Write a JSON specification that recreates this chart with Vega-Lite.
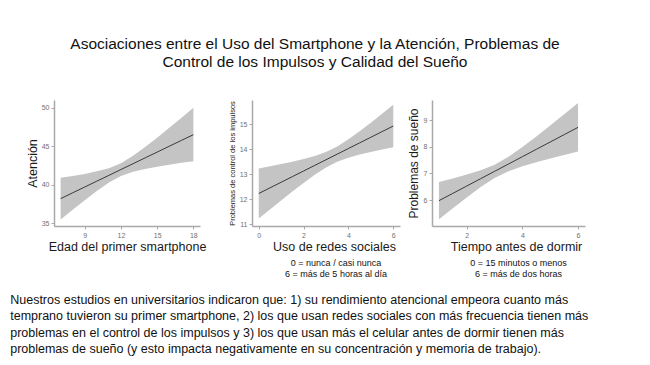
{
  "$schema": "https://vega.github.io/schema/vega-lite/v6.json",
  "background": "white",
  "padding": {"left": 10, "top": 36, "right": 5, "bottom": 5},
  "config": {
    "view": {"stroke": null},
    "font": "Liberation Sans",
    "axis": {"grid": false, "domainColor": "#a8a8a8", "domainWidth": 1.5, "tickColor": "#a8a8a8", "tickSize": 3, "tickWidth": 1, "labelColor": "#707070", "labelFontSize": 7, "labelPadding": 2, "labelOverlap": false, "titleFontWeight": "normal", "titleColor": "#1a1a1a", "titleFontSize": 12.5},
    "axisX": {"titlePadding": 2},
    "axisY": {"titlePadding": 3}
  },
  "title": {
    "text": ["Asociaciones entre el Uso del Smartphone y la Atención, Problemas de", "Control de los Impulsos y Calidad del Sueño"],
    "fontSize": 15.5, "fontWeight": "normal", "color": "#111111", "lineHeight": 18, "anchor": "middle", "offset": 30, "dx": 14
  },
  "datasets": {
    "p1": [
      {"x": 7, "lo": 35.5, "hi": 40.9, "fit": 38.2},
      {"x": 8, "lo": 36.77, "hi": 41.15, "fit": 38.96},
      {"x": 9, "lo": 38.0, "hi": 41.4, "fit": 39.71},
      {"x": 10, "lo": 39.2, "hi": 41.75, "fit": 40.47},
      {"x": 11, "lo": 40.3, "hi": 42.15, "fit": 41.22},
      {"x": 12, "lo": 41.15, "hi": 42.8, "fit": 41.98},
      {"x": 13, "lo": 41.7, "hi": 43.75, "fit": 42.73},
      {"x": 14, "lo": 42.05, "hi": 44.9, "fit": 43.49},
      {"x": 15, "lo": 42.35, "hi": 46.1, "fit": 44.24},
      {"x": 16, "lo": 42.6, "hi": 47.4, "fit": 45.0},
      {"x": 17, "lo": 42.85, "hi": 48.65, "fit": 45.75},
      {"x": 18, "lo": 43.05, "hi": 50.0, "fit": 46.5}
    ],
    "p2": [
      {"x": 0, "lo": 11.23, "hi": 13.23, "fit": 12.23},
      {"x": 0.5, "lo": 11.59, "hi": 13.32, "fit": 12.455},
      {"x": 1, "lo": 11.95, "hi": 13.41, "fit": 12.68},
      {"x": 1.5, "lo": 12.31, "hi": 13.5, "fit": 12.905},
      {"x": 2, "lo": 12.65, "hi": 13.61, "fit": 13.13},
      {"x": 2.5, "lo": 12.98, "hi": 13.73, "fit": 13.355},
      {"x": 3, "lo": 13.27, "hi": 13.89, "fit": 13.58},
      {"x": 3.5, "lo": 13.5, "hi": 14.11, "fit": 13.805},
      {"x": 4, "lo": 13.66, "hi": 14.4, "fit": 14.03},
      {"x": 4.5, "lo": 13.79, "hi": 14.72, "fit": 14.255},
      {"x": 5, "lo": 13.89, "hi": 15.06, "fit": 14.48},
      {"x": 5.5, "lo": 13.99, "hi": 15.42, "fit": 14.705},
      {"x": 6, "lo": 14.08, "hi": 15.78, "fit": 14.93}
    ],
    "p3": [
      {"x": 1, "lo": 5.28, "hi": 6.68, "fit": 5.98},
      {"x": 1.5, "lo": 5.7, "hi": 6.81, "fit": 6.255},
      {"x": 2, "lo": 6.1, "hi": 6.96, "fit": 6.53},
      {"x": 2.5, "lo": 6.49, "hi": 7.12, "fit": 6.805},
      {"x": 3, "lo": 6.83, "hi": 7.33, "fit": 7.08},
      {"x": 3.5, "lo": 7.08, "hi": 7.63, "fit": 7.355},
      {"x": 4, "lo": 7.27, "hi": 7.99, "fit": 7.63},
      {"x": 4.5, "lo": 7.42, "hi": 8.39, "fit": 7.905},
      {"x": 5, "lo": 7.56, "hi": 8.8, "fit": 8.18},
      {"x": 5.5, "lo": 7.69, "hi": 9.22, "fit": 8.455},
      {"x": 6, "lo": 7.82, "hi": 9.64, "fit": 8.73}
    ]
  },
  "vconcat": [
    {
      "title": {
        "text": [
          "Nuestros estudios en universitarios indicaron que: 1) su rendimiento atencional empeora cuanto más",
          "temprano tuvieron su primer smartphone,  2) los que usan redes sociales con más frecuencia tienen más",
          "problemas en el control de los impulsos y 3) los que usan más el celular antes de dormir tienen más",
          "problemas de sueño (y esto impacta negativamente en su concentración y memoria de trabajo)."
        ],
        "orient": "bottom", "anchor": "start", "frame": "bounds", "fontSize": 12.5, "fontWeight": "normal", "color": "#111111", "lineHeight": 16.5, "offset": 15, "dx": -16
      },
      "spacing": 52,
      "bounds": "flush",
      "hconcat": [
        {
          "width": 146, "height": 126,
          "data": {"name": "p1"},
          "layer": [
            {"mark": {"type": "area", "color": "#c4c4c4", "opacity": 1},
             "encoding": {
               "x": {"field": "x", "type": "quantitative", "scale": {"domain": [6.45, 18.55], "nice": false, "zero": false}, "axis": {"values": [9, 12, 15, 18], "title": "Edad del primer smartphone"}},
               "y": {"field": "lo", "type": "quantitative", "scale": {"domain": [34.65, 51.0], "nice": false, "zero": false}, "axis": {"values": [35, 40, 45, 50], "title": "Atención", "titlePadding": 2}},
               "y2": {"field": "hi"}
             }},
            {"mark": {"type": "line", "color": "#3a3a3a", "strokeWidth": 1},
             "encoding": {
               "x": {"field": "x", "type": "quantitative"},
               "y": {"field": "fit", "type": "quantitative"}
             }}
          ]
        },
        {
          "spacing": 32,
          "bounds": "flush",
          "hconcat": [
            {
              "width": 148, "height": 126,
              "data": {"name": "p2"},
              "title": {"text": ["0 = nunca / casi nunca", "6 = más de 5 horas al día"], "orient": "bottom", "fontSize": 9, "fontWeight": 500, "color": "#111111", "lineHeight": 11, "offset": 6, "dx": 10},
              "layer": [
                {"mark": {"type": "area", "color": "#c4c4c4", "opacity": 1},
                 "encoding": {
                   "x": {"field": "x", "type": "quantitative", "scale": {"domain": [-0.3, 6.3], "nice": false, "zero": false}, "axis": {"values": [0, 2, 4, 6], "title": "Uso de redes sociales", "titleX": 82}},
                   "y": {"field": "lo", "type": "quantitative", "scale": {"domain": [10.93, 15.97], "nice": false, "zero": false}, "axis": {"values": [11, 12, 13, 14, 15], "labelOverlap": false, "labelBound": false, "title": "Problemas de control de los impulsos", "titleFontSize": 7.5, "titlePadding": 3}},
                   "y2": {"field": "hi"}
                 }},
                {"mark": {"type": "line", "color": "#3a3a3a", "strokeWidth": 1},
                 "encoding": {
                   "x": {"field": "x", "type": "quantitative"},
                   "y": {"field": "fit", "type": "quantitative", "axis": {"values": [11, 12, 13, 14, 15], "labelOverlap": false}}
                 }}
              ]
            },
            {
              "width": 153, "height": 126,
              "data": {"name": "p3"},
              "title": {"text": ["0 = 15 minutos o menos", "6 = más de dos horas"], "orient": "bottom", "fontSize": 9, "fontWeight": 500, "color": "#111111", "lineHeight": 11, "offset": 6, "dx": 10},
              "layer": [
                {"mark": {"type": "area", "color": "#c4c4c4", "opacity": 1},
                 "encoding": {
                   "x": {"field": "x", "type": "quantitative", "scale": {"domain": [0.75, 6.25], "nice": false, "zero": false}, "axis": {"values": [2, 4, 6], "title": "Tiempo antes de dormir", "titleX": 84}},
                   "y": {"field": "lo", "type": "quantitative", "scale": {"domain": [5.03, 9.755], "nice": false, "zero": false}, "axis": {"values": [6, 7, 8, 9], "title": "Problemas de  sueño", "titleFontSize": 12}},
                   "y2": {"field": "hi"}
                 }},
                {"mark": {"type": "line", "color": "#3a3a3a", "strokeWidth": 1},
                 "encoding": {
                   "x": {"field": "x", "type": "quantitative"},
                   "y": {"field": "fit", "type": "quantitative"}
                 }}
              ]
            }
          ]
        }
      ]
    }
  ]
}
